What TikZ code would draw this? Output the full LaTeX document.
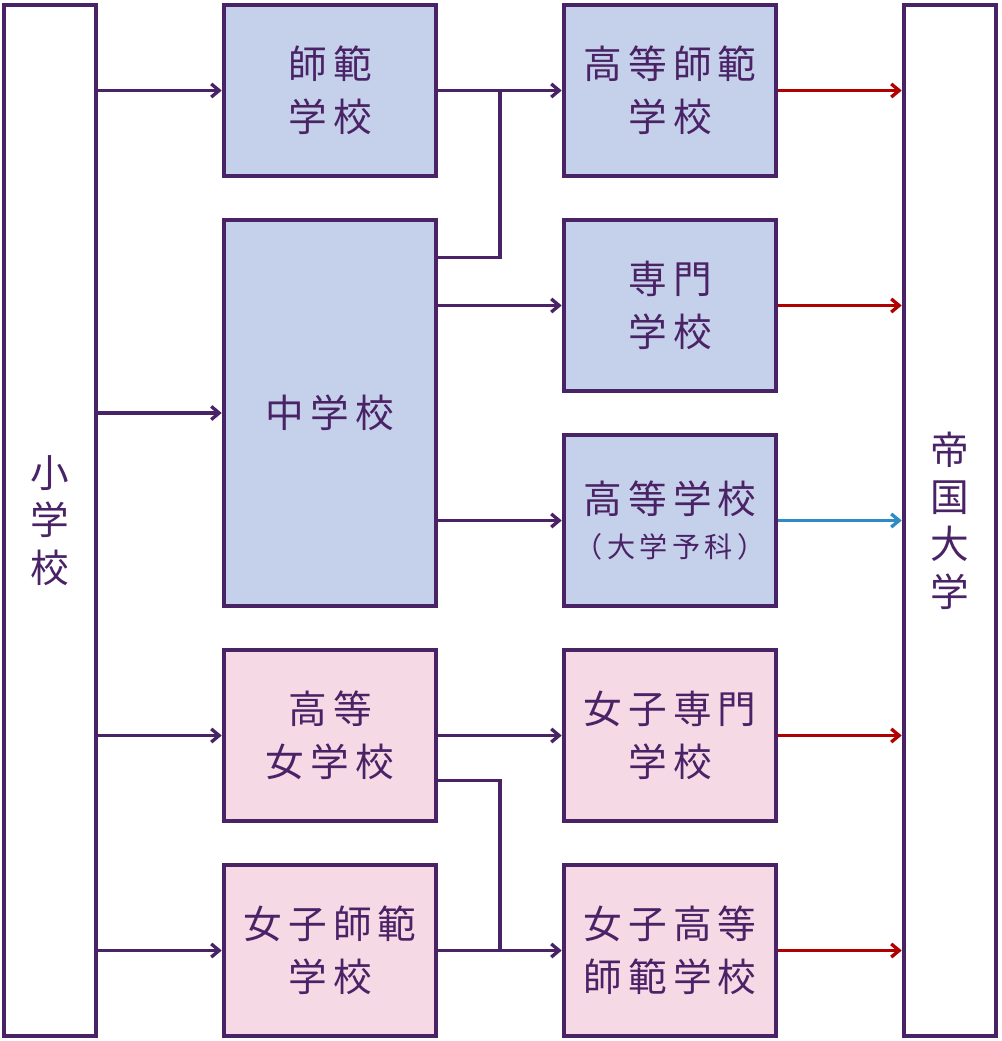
\documentclass[tikz,border=0pt]{standalone}
\usepackage{fontspec}
\usepackage{xcolor}
\usepackage{tikz}
\usetikzlibrary{positioning,arrows.meta,calc}
\newfontfamily\jp[LetterSpace=16]{Noto Sans CJK JP}
\definecolor{schoolPurple}{HTML}{4A2366}
\definecolor{boysBlue}{HTML}{C5D0EA}
\definecolor{girlsPink}{HTML}{F5DAE6}
\definecolor{routeRed}{HTML}{B00000}
\definecolor{routeBlue}{HTML}{2E8BC4}

\begin{document}
\begin{tikzpicture}[x=0.02cm,y=-0.02cm,font=\jp\fontsize{22}{30}\selectfont,text=schoolPurple,
      box/.style={draw=schoolPurple,line width=2.6pt,minimum width=4.24cm,minimum height=3.42cm,align=center,inner sep=0pt},
      boys/.style={box,fill=boysBlue},
      girls/.style={box,fill=girlsPink},
      pillar/.style={draw=schoolPurple,line width=2.6pt,fill=white,minimum width=1.84cm,minimum height=20.62cm,align=center,inner sep=0pt,font=\jp\fontsize{22}{27}\selectfont},
      link/.style={draw=schoolPurple,line width=1.9pt},
      go/.style={link,-{Straight Barb[length=4.5pt,width=7.5pt]}}
    ]
    \useasboundingbox (0,0) rectangle (1001,1041);

    \node[pillar] (sho) at (50,520.5) {小\\学\\校};
    \node[pillar] (teidai) at (950,520.5) {帝\\国\\大\\学};

    \node[boys] (shihan) at (330,90.5) {師範\\学校};
    \node[boys,minimum height=7.72cm] (chu) at (330,413) {中学校};
    \node[girls] (kojo) at (330,735.5) {高等\\女学校};
    \node[girls] (joshihan) at (330,950.5) {女子師範\\学校};

    \node[boys] (koshi) at (670,90.5) {高等師範\\学校};
    \node[boys] (senmon) at (670,305.5) {専門\\学校};
    \node[boys] (kotogakko) at (670,520.5) {高等学校\\[-5pt]{\fontsize{16}{20}\selectfont （大学予科）}};
    \node[girls] (josen) at (670,735.5) {女子専門\\学校};
    \node[girls] (jokoshi) at (670,950.5) {女子高等\\師範学校};

    \coordinate (upJoin) at ($(shihan.east)!.5!(koshi.west)$);
    \coordinate (lowJoin) at ($(joshihan.east)!.5!(jokoshi.west)$);

    % from the elementary school
    \draw[go] (sho.east |- shihan) -- (shihan.west);
    \draw[go] (sho.east |- chu) -- (chu.west);
    \draw[go] (sho.east |- kojo) -- (kojo.west);
    \draw[go] (sho.east |- joshihan) -- (joshihan.west);

    % middle column to right column
    \draw[go] (shihan.east) -- (koshi.west);
    \draw[link] ([yshift=-0.8cm]chu.north east) -| (upJoin);
    \draw[go] (chu.east |- senmon) -- (senmon.west);
    \draw[go] (chu.east |- kotogakko) -- (kotogakko.west);
    \draw[go] (kojo.east) -- (josen.west);
    \draw[link] ([yshift=-0.9cm]kojo.east) -| (lowJoin);
    \draw[go] (joshihan.east) -- (jokoshi.west);

    % into the imperial university
    \draw[go,routeRed] (koshi.east) -- (teidai.west |- koshi);
    \draw[go,routeRed] (senmon.east) -- (teidai.west |- senmon);
    \draw[go,routeBlue] (kotogakko.east) -- (teidai.west |- kotogakko);
    \draw[go,routeRed] (josen.east) -- (teidai.west |- josen);
    \draw[go,routeRed] (jokoshi.east) -- (teidai.west |- jokoshi);
  \end{tikzpicture}
\end{document}
